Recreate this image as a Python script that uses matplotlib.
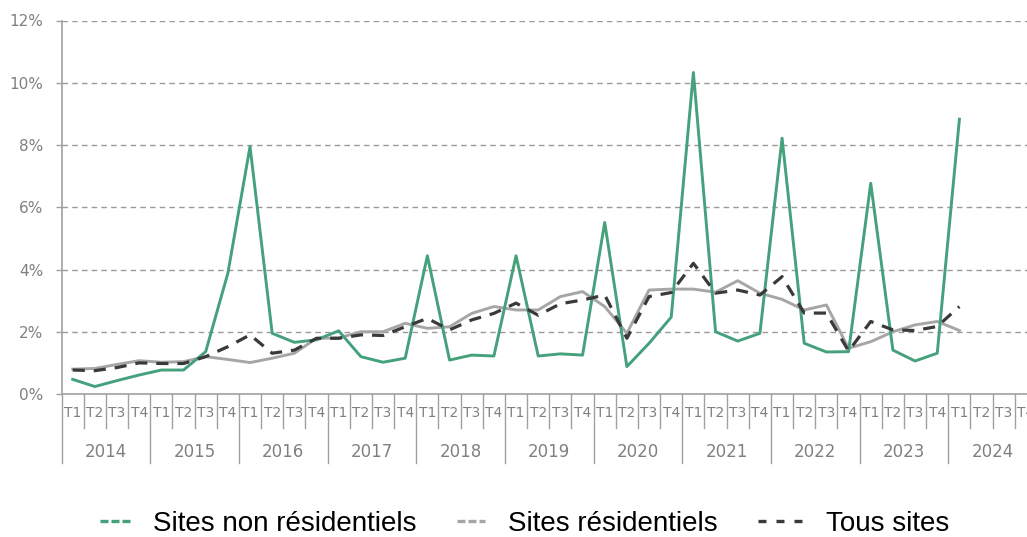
"""
Taux trimestriels par type de site, 2014-2024
"""
import numpy as np
import matplotlib.pyplot as plt
from matplotlib.lines import Line2D
import matplotlib.transforms as mtransforms

years = [str(y) for y in range(2014, 2025)]
quarters = ['T1', 'T2', 'T3', 'T4']

# valeurs en %, de 2014 T1 a 2024 T1
non_residentiels = [0.47, 0.24, 0.43, 0.61,
                    0.77, 0.77, 1.36, 3.88,
                    7.95, 1.95, 1.66, 1.74,
                    2.03, 1.20, 1.02, 1.15,
                    4.44, 1.09, 1.25, 1.22,
                    4.44, 1.22, 1.29, 1.25,
                    5.51, 0.88, 1.63, 2.47,
                    10.33, 2.00, 1.70, 1.95,
                    8.22, 1.63, 1.35, 1.36,
                    6.77, 1.41, 1.06, 1.31,
                    8.83]
residentiels = [0.80, 0.82, 0.95, 1.07,
                1.02, 1.04, 1.20, 1.11,
                1.01, 1.15, 1.31, 1.79,
                1.80, 2.00, 2.00, 2.27,
                2.11, 2.16, 2.59, 2.81,
                2.70, 2.70, 3.13, 3.29,
                2.81, 1.95, 3.34, 3.37,
                3.37, 3.27, 3.64, 3.24,
                3.04, 2.70, 2.86, 1.47,
                1.68, 2.00, 2.22, 2.33,
                2.04]
tous_sites = [0.77, 0.75, 0.85, 1.00,
              0.98, 0.98, 1.20, 1.52,
              1.90, 1.31, 1.41, 1.79,
              1.79, 1.90, 1.88, 2.16,
              2.43, 2.06, 2.38, 2.59,
              2.92, 2.53, 2.90, 3.02,
              3.18, 1.79, 3.13, 3.26,
              4.20, 3.24, 3.34, 3.18,
              3.77, 2.60, 2.60, 1.38,
              2.33, 2.06, 2.04, 2.17,
              2.81]
labels = ['Sites non résidentiels', 'Sites résidentiels', 'Tous sites']

green = '#45a07c'
grey = '#a6a6a6'
dark = '#3a3a3a'
axis_grey = '#a0a0a0'
text_grey = '#808080'

n_q = len(years) * 4
x = np.arange(len(non_residentiels))

W, H = 1027, 537
fig = plt.figure(figsize=(W / 100, H / 100), dpi=100)
# the axes run slightly past the right edge, as in the original
ax = fig.add_axes([61.6 / W, 143 / H, (1037 - 61.6) / W, 373.5 / H])

ax.plot(x, residentiels, color=grey, lw=2.1, zorder=3)
ax.plot(x, non_residentiels, color=green, lw=2.1, zorder=4)
ax.plot(x, tous_sites, color=dark, lw=2.3, dashes=(3.8, 2.8), zorder=5)

ax.set_xlim(-0.5, n_q - 0.5)
ax.set_ylim(0, 12)
ax.set_yticks(range(0, 13, 2))
ax.set_yticklabels([f'{v}%' for v in range(0, 13, 2)])
ax.tick_params(axis='y', colors=axis_grey, labelcolor=text_grey, labelsize=11,
               length=4, width=1, pad=9)
ax.set_xticks([])

for v in range(2, 13, 2):
    ax.axhline(v, color='#9a9a9a', lw=1, dashes=(4, 3), zorder=1)

for s in ['top', 'right']:
    ax.spines[s].set_visible(False)
for s in ['left', 'bottom']:
    ax.spines[s].set_color(axis_grey)
    ax.spines[s].set_linewidth(1.2)

# two-level category axis
trans = mtransforms.blended_transform_factory(ax.transData, ax.transAxes)
px = 1 / 373.5
for k in range(n_q + 1):
    depth = 69 * px if k % 4 == 0 else 34 * px
    ax.plot([k - 0.5, k - 0.5], [0, -depth], transform=trans, color=axis_grey,
            lw=1, clip_on=False)
for k in range(n_q):
    ax.text(k, -19 * px, quarters[k % 4], transform=trans, ha='center', va='center',
            fontsize=10, color=text_grey, clip_on=False)
for i, yr in enumerate(years):
    ax.text(i * 4 + 1.5, -58 * px, yr, transform=trans, ha='center', va='center',
            fontsize=12, color=text_grey, clip_on=False)

# legend: one entry per legend so each marker keeps its own length
fs_px = 20 * 100 / 72
entries = [(green, (2.4, 0.9), 30, 100),
           (grey, (2.4, 0.9), 28, 457),
           (dark, (2.4, 3.0), 45, 758)]
for (col, dash, hl, x0), lab in zip(entries, labels):
    h = Line2D([], [], color=col, lw=2.4, dashes=dash)
    fig.legend([h], [lab], loc='center left', bbox_to_anchor=(x0 / W, 13 / H),
               frameon=False, prop={'family': 'Liberation Sans', 'size': 20},
               handlelength=hl / fs_px, handletextpad=23 / fs_px,
               borderpad=0, borderaxespad=0)

fig.savefig('out.png', dpi=100)
